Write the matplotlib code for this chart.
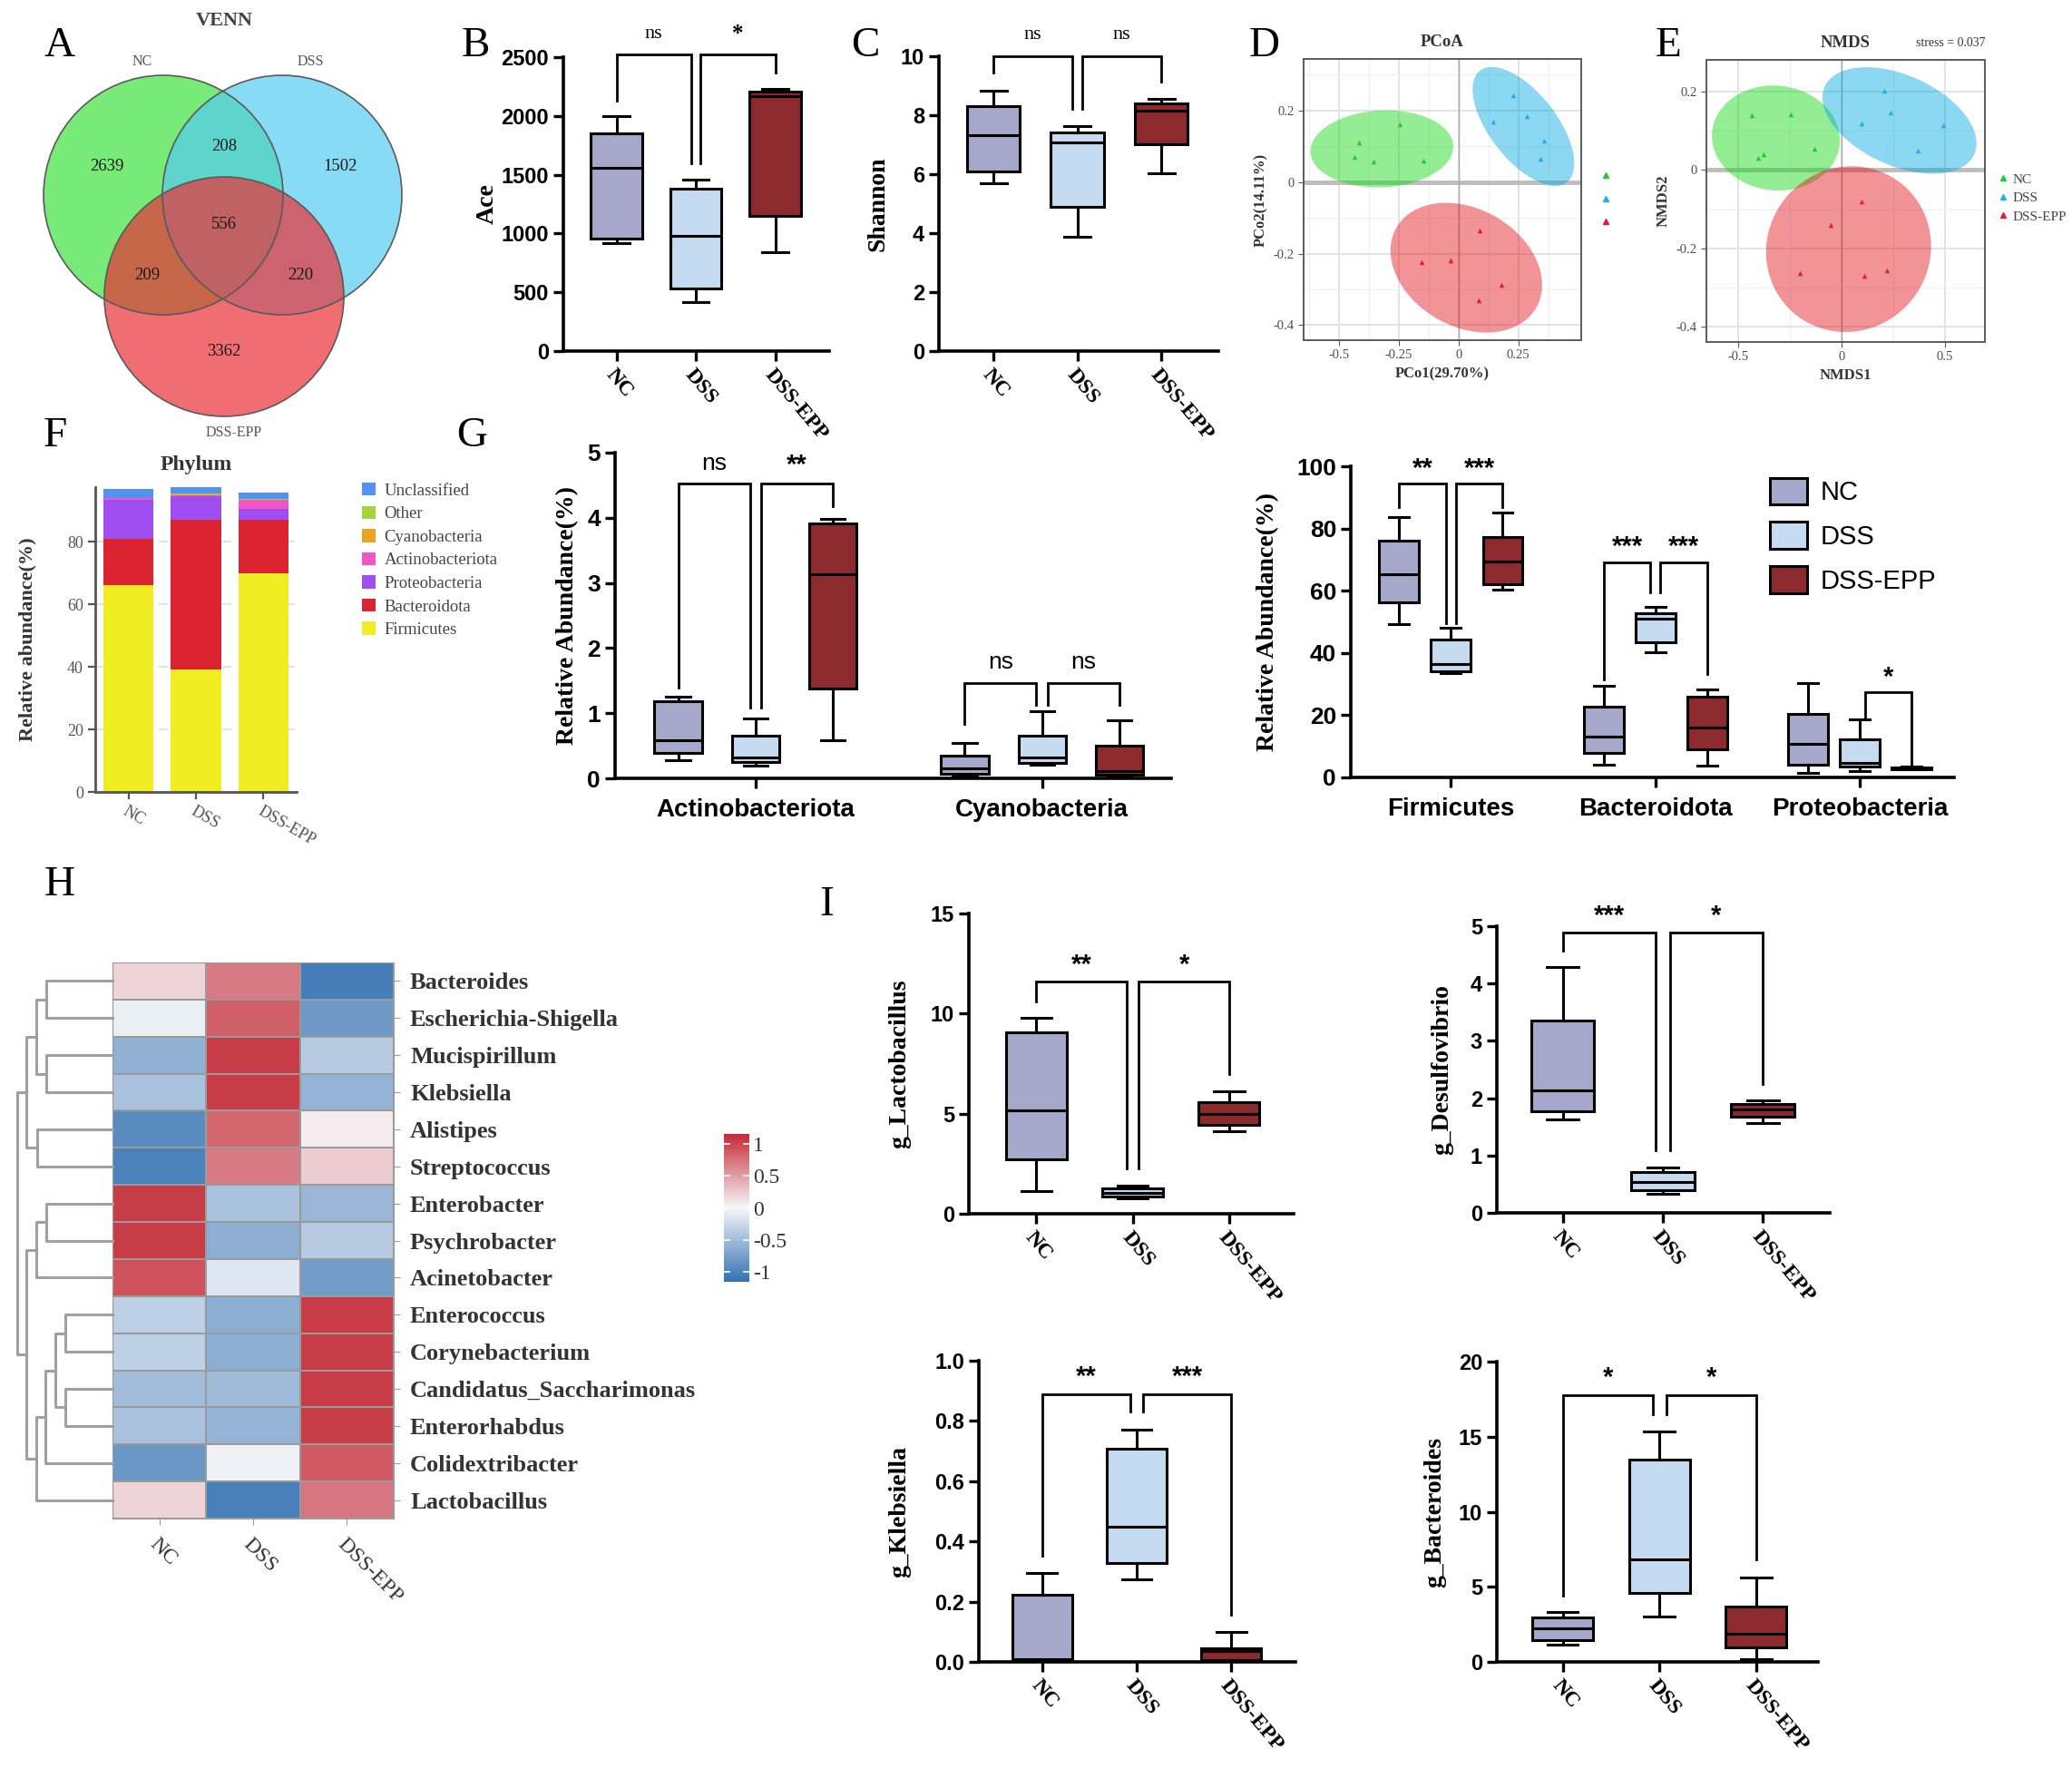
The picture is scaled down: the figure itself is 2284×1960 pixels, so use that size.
import numpy as np
import matplotlib
matplotlib.use('Agg')
import matplotlib.pyplot as plt
from matplotlib.patches import Circle, Patch
from matplotlib.lines import Line2D
from matplotlib.colors import LinearSegmentedColormap

W, H = 2284, 1960
SERIF = 'Liberation Serif'
SANS = 'Liberation Sans'
plt.rcParams['font.family'] = [SERIF, 'DejaVu Serif']

groups = ['NC', 'DSS', 'DSS-EPP']
box_colors = ['#A5A8CA', '#C5DBF2', '#8C2A2E']

# ---- A: venn ----
venn_counts = [2639, 1502, 3362, 208, 209, 220, 556]   # NC, DSS, EPP, NC&DSS, NC&EPP, DSS&EPP, all

# ---- B / C: [min, q1, median, q3, max] per group ----
ace = [[920, 960, 1560, 1850, 2000], [420, 530, 980, 1380, 1460], [840, 1150, 2170, 2210, 2230]]
shannon = [[5.69, 6.10, 7.31, 8.31, 8.82], [3.87, 4.90, 7.08, 7.41, 7.64], [6.02, 7.00, 8.15, 8.39, 8.56]]

# ---- D / E: ordination scores ----
pcoa_x = [[-0.417, -0.433, -0.357, -0.247, -0.145], [0.23, 0.284, 0.145, 0.356, 0.343], [0.088, -0.033, -0.155, 0.18, 0.084]]
pcoa_y = [[0.112, 0.071, 0.058, 0.161, 0.061], [0.243, 0.185, 0.168, 0.116, 0.065], [-0.136, -0.218, -0.225, -0.288, -0.33]]
nmds_x = [[-0.436, -0.247, -0.377, -0.403, -0.132], [0.208, 0.239, 0.096, 0.491, 0.369], [0.096, -0.052, -0.203, 0.109, 0.218]]
nmds_y = [[0.139, 0.143, 0.041, 0.032, 0.053], [0.202, 0.147, 0.120, 0.114, 0.049], [-0.080, -0.141, -0.264, -0.269, -0.256]]

# ---- F: phylum composition ----
phyla = ['Firmicutes', 'Bacteroidota', 'Proteobacteria', 'Actinobacteriota', 'Cyanobacteria', 'Other', 'Unclassified']
phylum_colors = ['#F0EE22', '#DB2430', '#A04EF2', '#F455C4', '#F0A023', '#A6D23A', '#4F94F2']
phylum_nc = [66.2, 14.8, 12.3, 0.6, 0.1, 0.1, 2.7]
phylum_dss = [39.1, 47.9, 7.7, 0.3, 0.2, 0.2, 2.2]
phylum_epp = [69.9, 17.1, 3.4, 2.9, 0.2, 0.2, 2.2]

# ---- G ----
g_left_taxa = ['Actinobacteriota', 'Cyanobacteria']
actino = [[0.279, 0.386, 0.586, 1.177, 1.256], [0.2, 0.256, 0.326, 0.656, 0.921], [0.586, 1.377, 3.14, 3.91, 3.977]]
cyano = [[0.037, 0.074, 0.15, 0.353, 0.549], [0.214, 0.233, 0.326, 0.656, 1.028], [0.037, 0.06, 0.107, 0.502, 0.898]]
g_right_taxa = ['Firmicutes', 'Bacteroidota', 'Proteobacteria']
firm = [[49.2, 56.3, 65.4, 76.0, 83.7], [33.6, 34.1, 36.5, 44.3, 48.2], [60.4, 62.1, 69.3, 77.4, 85.2]]
bact = [[4.2, 8.0, 13.0, 22.6, 29.4], [40.1, 43.3, 51.1, 52.8, 54.7], [3.7, 9.0, 16.1, 26.0, 28.2]]
proteo = [[1.5, 4.2, 10.7, 20.4, 30.2], [1.9, 3.4, 4.7, 12.2, 18.7], [2.5, 2.7, 3.0, 3.3, 3.5]]

# ---- H: heatmap (row z-scores) ----
genera = ['Bacteroides', 'Escherichia-Shigella', 'Mucispirillum', 'Klebsiella', 'Alistipes',
          'Streptococcus', 'Enterobacter', 'Psychrobacter', 'Acinetobacter', 'Enterococcus',
          'Corynebacterium', 'Candidatus_Saccharimonas', 'Enterorhabdus', 'Colidextribacter', 'Lactobacillus']
heat = [[0.20, 0.70, -1.05], [-0.08, 0.85, -0.80], [-0.60, 1.05, -0.38], [-0.45, 1.05, -0.58],
        [-0.92, 0.80, 0.08], [-1.00, 0.70, 0.25], [1.05, -0.45, -0.55], [1.05, -0.62, -0.38],
        [0.92, -0.15, -0.78], [-0.35, -0.62, 1.05], [-0.35, -0.62, 1.05], [-0.50, -0.52, 1.05],
        [-0.45, -0.58, 1.05], [-0.82, -0.05, 0.88], [0.20, -1.02, 0.72]]
# (left, right, height); leaves 0-14, node 15+k made by merge k
merges = [(0, 1, 0.70), (2, 3, 0.70), (15, 16, 0.80), (4, 5, 0.795), (17, 18, 0.904),
          (6, 7, 0.70), (20, 8, 0.80), (9, 10, 0.497), (11, 12, 0.497), (22, 23, 0.60),
          (24, 13, 0.705), (25, 14, 0.80), (21, 26, 0.904), (19, 27, 1.0)]

# ---- I ----
lacto = [[1.13, 2.71, 5.17, 9.05, 9.77], [0.75, 0.86, 1.04, 1.25, 1.40], [4.12, 4.45, 5.0, 5.58, 6.1]]
desulfo = [[1.63, 1.77, 2.13, 3.36, 4.29], [0.33, 0.40, 0.54, 0.71, 0.79], [1.56, 1.67, 1.80, 1.90, 1.96]]
klebs = [[0.0, 0.002, 0.01, 0.223, 0.296], [0.275, 0.328, 0.448, 0.709, 0.771], [0.002, 0.005, 0.037, 0.045, 0.099]]
bacteroides = [[1.17, 1.45, 2.22, 2.98, 3.32], [3.02, 4.57, 6.85, 13.5, 15.35], [0.2, 0.97, 1.87, 3.69, 5.6]]

fig = plt.figure(figsize=(W / 100, H / 100), dpi=100)


def add_ax(x0, y0, x1, y1):
    return fig.add_axes([x0 / W, 1 - y1 / H, (x1 - x0) / W, (y1 - y0) / H])


def letter(x, y, s):
    fig.text(x / W, 1 - y / H, s, fontsize=34, ha='center', va='center')


def prism_axes(box, xlim, ylim, yticks, ytlabels, ylabel, ylabel_x, tfs=17):
    ax = add_ax(*box)
    ax.set_xlim(*xlim)
    ax.set_ylim(*ylim)
    for s in ['top', 'right']:
        ax.spines[s].set_visible(False)
    for s in ['left', 'bottom']:
        ax.spines[s].set_linewidth(2.6)
    ax.set_yticks(yticks, labels=ytlabels, fontfamily=SANS, fontweight='bold', fontsize=tfs)
    ax.tick_params(axis='both', width=2.4, length=8)
    ax.set_ylabel(ylabel, fontsize=20, fontweight='bold')
    # label anchor is the right edge of the rotated text, so shift from its centre
    ax.yaxis.set_label_coords((ylabel_x + 14 - box[0]) / (box[2] - box[0]), 0.5)
    return ax


def draw_boxes(ax, stats, positions, width, colors):
    bstats = [dict(whislo=s[0], q1=s[1], med=s[2], q3=s[3], whishi=s[4], fliers=[]) for s in stats]
    lw = 2.2
    bp = ax.bxp(bstats, positions=positions, widths=width, patch_artist=True, showfliers=False,
                capwidths=width * 0.5, manage_ticks=False,
                boxprops=dict(linewidth=lw, edgecolor='black'),
                whiskerprops=dict(linewidth=lw, color='black'),
                capprops=dict(linewidth=lw, color='black'),
                medianprops=dict(linewidth=lw, color='black'))
    for patch, c in zip(bp['boxes'], colors):
        patch.set_facecolor(c)


def bracket(ax, xa, xb, ya, yb, ytop, label, ty, fam=SANS, fs=18):
    ax.plot([xa, xa, xb, xb], [ya, ytop, ytop, yb], color='black', lw=2, clip_on=False,
            solid_joinstyle='miter')
    wt = 'normal' if label == 'ns' else 'bold'
    ax.text((xa + xb) / 2, ty, label, ha='center', va='center', fontfamily=fam,
            fontsize=fs, fontweight=wt, clip_on=False)


def cat_labels(ax, fs=17):
    ax.set_xticks([0, 1, 2], labels=groups, rotation=-50, ha='left', va='top',
                  rotation_mode='anchor', fontsize=fs, fontweight='bold')


# ================= A: Venn =================
axv = add_ax(0, 0, 500, 490)
axv.set_xlim(0, 500)
axv.set_ylim(490, 0)
axv.axis('off')
venn_centers = [(180, 215), (311, 215), (247, 327)]
venn_colors = ['#3EE23E', '#54CDF1', '#EA3037']
for (cx, cy), c in zip(venn_centers, venn_colors):
    axv.add_patch(Circle((cx, cy), 132, facecolor=c, alpha=0.7, edgecolor='none'))
for cx, cy in venn_centers:
    axv.add_patch(Circle((cx, cy), 132, fill=False, edgecolor='#5A5A5A', lw=1.2))
venn_text_pos = [(118, 183), (375, 183), (247, 387), (247, 162), (162, 303), (331, 303), (247, 247)]
for (tx, ty), n in zip(venn_text_pos, venn_counts):
    axv.text(tx, ty, str(n), ha='center', va='center', fontsize=13.5, color='#1A1A1A')
axv.text(247, 23, 'VENN', ha='center', va='center', fontsize=16, fontweight='bold', color='#444444')
venn_label_pos = [(157, 68), (342, 68), (258, 477)]
for (tx, ty), s in zip(venn_label_pos, groups):
    axv.text(tx, ty, s, ha='center', va='center', fontsize=11.5, color='#555555')

# ================= B / C =================
axb = prism_axes((621, 63, 914, 387), (-0.67, 2.68), (0, 2500), range(0, 2501, 500),
                 [str(v) for v in range(0, 2501, 500)], 'Ace', 536)
draw_boxes(axb, ace, [0, 1, 2], 0.65, box_colors)
cat_labels(axb)
bracket(axb, 0, 0.94, 2126, 1598, 2526, 'ns', 2693, SERIF, 16)
bracket(axb, 1.06, 2, 1598, 2371, 2526, '*', 2693, SERIF, 18)

axc = prism_axes((1035, 62, 1343, 387), (-0.65, 2.68), (0, 10), range(0, 11, 2),
                 [str(v) for v in range(0, 11, 2)], 'Shannon', 966)
draw_boxes(axc, shannon, [0, 1, 2], 0.63, box_colors)
cat_labels(axc)
bracket(axc, 0, 0.94, 9.44, 8.2, 10.0, 'ns', 10.72, SERIF, 16)
bracket(axc, 1.06, 2, 8.2, 9.15, 10.0, 'ns', 10.72, SERIF, 16)

# ================= D / E =================
fill_cols = ['#10D810', '#00A8E0', '#E0101A']
pt_cols = ['#22CC33', '#22B0E0', '#E02030']


def gg_axes(box, xlim, ylim, xticks, xtl, yticks, ytl, xminor, yminor):
    ax = add_ax(*box)
    ax.set_xlim(*xlim)
    ax.set_ylim(*ylim)
    ax.set_xticks(xticks, labels=xtl)
    ax.set_yticks(yticks, labels=ytl)
    ax.set_xticks(xminor, minor=True)
    ax.set_yticks(yminor, minor=True)
    ax.grid(which='major', color='#E3E3E3', lw=1.4)
    ax.grid(which='minor', color='#F1F1F1', lw=1.0)
    ax.set_axisbelow(True)
    for s in ax.spines.values():
        s.set_color('#5A5A5A')
        s.set_linewidth(1.4)
    ax.tick_params(which='minor', length=0)
    ax.tick_params(which='major', length=4, color='#5A5A5A', labelsize=10.5, labelcolor='#4D4D4D')
    ax.axhline(0, color='#BDBDBD', lw=3.5, zorder=1)
    ax.axvline(0, color='#A8A8A8', lw=1.0, zorder=1)
    return ax


def ellipse(ax, xs, ys, color):
    xs = np.asarray(xs)
    ys = np.asarray(ys)
    vals, vecs = np.linalg.eigh(np.cov(xs, ys))
    t = np.linspace(0, 2 * np.pi, 200)
    pts = vecs @ (np.sqrt(vals)[:, None] * np.vstack([np.cos(t), np.sin(t)])) * np.sqrt(5.991)
    ax.fill(xs.mean() + pts[0], ys.mean() + pts[1], color=color, alpha=0.45, lw=0, zorder=2)


axd = gg_axes((1437, 65, 1743, 375), (-0.647, 0.513), (-0.442, 0.344),
              [-0.5, -0.25, 0, 0.25], ['-0.5', '-0.25', '0', '0.25'],
              [-0.4, -0.2, 0, 0.2], ['-0.4', '-0.2', '0', '0.2'],
              [-0.625, -0.375, -0.125, 0.125, 0.375], [-0.3, -0.1, 0.1, 0.3])
for i in range(3):
    ellipse(axd, pcoa_x[i], pcoa_y[i], fill_cols[i])
    axd.scatter(pcoa_x[i], pcoa_y[i], marker='^', s=16, color=pt_cols[i], zorder=3, lw=0)
axd.set_title('PCoA', fontsize=13.5, fontweight='bold', color='#333333', pad=10)
axd.set_xlabel('PCo1(29.70%)', fontsize=12, fontweight='bold', color='#333333')
axd.set_ylabel('PCo2(14.11%)', fontsize=12, fontweight='bold', color='#333333')
hd = [Line2D([], [], marker='^', ls='', color=c, markersize=5) for c in pt_cols]
axd.legend(hd, ['', '', ''], loc='center left', bbox_to_anchor=(1.03, 0.5), frameon=False,
           handlelength=0.8, labelspacing=0.9)

axe = gg_axes((1881, 66, 2188, 377), (-0.656, 0.695), (-0.439, 0.281),
              [-0.5, 0, 0.5], ['-0.5', '0', '0.5'],
              [-0.4, -0.2, 0, 0.2], ['-0.4', '-0.2', '0', '0.2'],
              [-0.25, 0.25], [-0.3, -0.1, 0.1])
for i in range(3):
    ellipse(axe, nmds_x[i], nmds_y[i], fill_cols[i])
    axe.scatter(nmds_x[i], nmds_y[i], marker='^', s=16, color=pt_cols[i], zorder=3, lw=0)
axe.set_title('NMDS', fontsize=13.5, fontweight='bold', color='#333333', pad=10)
axe.text(1.0, 1.04, 'stress = 0.037', transform=axe.transAxes, ha='right', va='bottom',
         fontsize=10, color='#333333')
axe.set_xlabel('NMDS1', fontsize=12, fontweight='bold', color='#333333')
axe.set_ylabel('NMDS2', fontsize=12, fontweight='bold', color='#333333')
axe.legend(hd, groups, loc='center left', bbox_to_anchor=(1.0, 0.51), frameon=False,
           handlelength=0.8, handletextpad=0.3, labelspacing=0.45, fontsize=11,
           labelcolor='#444444')

# ================= F =================
axf = add_ax(105, 537, 327, 873)
bottoms = np.zeros(3)
bars = []
for i, ph in enumerate(phyla):
    vals = np.array([phylum_nc[i], phylum_dss[i], phylum_epp[i]])
    bars.append(axf.bar([0, 1, 2], vals, bottom=bottoms, width=0.74, color=phylum_colors[i],
                        label=ph, zorder=2))
    bottoms += vals
axf.set_xlim(-0.49, 2.49)
axf.set_ylim(0, 97.5)
axf.set_yticks([0, 20, 40, 60, 80])
axf.yaxis.grid(True, ls=(0, (6, 8)), color='#DDDDDD', lw=1.2, zorder=0)
for s in ['top', 'right']:
    axf.spines[s].set_visible(False)
for s in ['left', 'bottom']:
    axf.spines[s].set_linewidth(2)
    axf.spines[s].set_color('#555555')
axf.tick_params(width=1.6, length=6, color='#555555', labelsize=13, labelcolor='#555555')
axf.set_xticks([0, 1, 2], labels=groups, rotation=-30, ha='left', va='top',
               rotation_mode='anchor', fontsize=13, color='#555555')
axf.set_ylabel('Relative abundance(%)', fontsize=16, fontweight='bold', color='#333333')
axf.yaxis.set_label_coords(-0.29, 0.5)
axf.set_title('Phylum', fontsize=17, fontweight='bold', color='#333333', pad=14)
axf.legend(bars[::-1], phyla[::-1], loc='upper left', bbox_to_anchor=(1.25, 1.065), frameon=False,
           fontsize=13.5, labelcolor='#444444', handlelength=0.8, handleheight=0.8,
           handletextpad=0.5, labelspacing=0.42)

# ================= G =================
offs_l = [-0.27, 0, 0.27]
axg1 = prism_axes((678, 499, 1291, 858), (-0.49, 1.45), (0, 5), range(6),
                  [str(v) for v in range(6)], 'Relative Abundance(%)', 624, tfs=19)
for gi, st in enumerate([actino, cyano]):
    draw_boxes(axg1, st, [gi + o for o in offs_l], 0.165, box_colors)
axg1.set_xticks([0, 1], labels=g_left_taxa, fontfamily=SANS, fontweight='bold', fontsize=20)
axg1.tick_params(axis='x', pad=8)
bracket(axg1, -0.27, -0.02, 1.386, 1.084, 4.52, 'ns', 4.83, SANS, 19)
bracket(axg1, 0.02, 0.27, 1.084, 4.177, 4.52, '**', 4.80, SANS, 21)
bracket(axg1, 0.73, 0.98, 0.83, 1.13, 1.465, 'ns', 1.78, SANS, 19)
bracket(axg1, 1.02, 1.27, 1.13, 1.13, 1.465, 'ns', 1.78, SANS, 19)

offs_r = [-0.253, 0, 0.253]
axg2 = prism_axes((1489, 514, 2154, 857), (-0.49, 2.46), (0, 100), range(0, 101, 20),
                  [str(v) for v in range(0, 101, 20)], 'Relative Abundance(%)', 1396, tfs=19)
for gi, st in enumerate([firm, bact, proteo]):
    draw_boxes(axg2, st, [gi + o for o in offs_r], 0.195, box_colors)
axg2.set_xticks([0, 1, 2], labels=g_right_taxa, fontfamily=SANS, fontweight='bold', fontsize=20)
axg2.tick_params(axis='x', pad=8)
bracket(axg2, -0.253, -0.024, 86.9, 49.7, 94.4, '**', 99.0, SANS, 21)
bracket(axg2, 0.024, 0.253, 49.7, 86.9, 94.4, '***', 99.0, SANS, 21)
bracket(axg2, 0.747, 0.976, 31.4, 59.4, 69.1, '***', 74.0, SANS, 21)
bracket(axg2, 1.024, 1.253, 59.4, 33.3, 69.1, '***', 74.0, SANS, 21)
bracket(axg2, 2.024, 2.253, 19.0, 3.9, 27.3, '*', 32.0, SANS, 21)
lh = [Patch(facecolor=c, edgecolor='black', lw=2.2) for c in box_colors]
axg2.legend(lh, groups, loc='upper left', bbox_to_anchor=(0.655, 1.04), frameon=False,
            prop={'family': SANS, 'size': 21}, handlelength=1.4, handleheight=1.2,
            labelspacing=0.62, handletextpad=0.5)

# ================= H =================
hm_cmap = LinearSegmentedColormap.from_list('hm', ['#3471B2', '#F7F7FA', '#C42A36'])
axh = add_ax(124, 1061, 434, 1674)
mesh = axh.pcolormesh(np.array(heat), cmap=hm_cmap, vmin=-1.15, vmax=1.15,
                      edgecolors='#9A9A9A', linewidth=1.2)
axh.set_xlim(0, 3)
axh.set_ylim(15, 0)
axh.yaxis.tick_right()
axh.set_yticks(np.arange(15) + 0.5, labels=genera, fontsize=19, fontweight='bold', color='#333333')
axh.set_xticks(np.arange(3) + 0.5, labels=groups, rotation=-45, ha='left', va='top',
               rotation_mode='anchor', fontsize=17, color='#333333')
for s in axh.spines.values():
    s.set_color('#9A9A9A')
axh.tick_params(length=5, color='#9A9A9A', pad=8)

axdn = add_ax(19, 1061, 124, 1674)
axdn.set_xlim(1.0, 0)
axdn.set_ylim(15, 0)
axdn.axis('off')
ypos = {i: i + 0.5 for i in range(15)}
hgt = {i: 0.0 for i in range(15)}
for k, (a, b, h) in enumerate(merges):
    axdn.plot([hgt[a], h, h, hgt[b]], [ypos[a], ypos[a], ypos[b], ypos[b]],
              color='#A0A0A0', lw=2.2, clip_on=False)
    ypos[15 + k] = (ypos[a] + ypos[b]) / 2
    hgt[15 + k] = h

cax = add_ax(798, 1250, 826, 1413)
cb = fig.colorbar(mesh, cax=cax, ticks=[-1, -0.5, 0, 0.5, 1])
cb.outline.set_visible(False)
cb.set_ticklabels(['-1', '-0.5', '0', '0.5', '1'])
cax.tick_params(length=0, labelsize=17, labelcolor='#333333', pad=3)
for t in [-1, -0.5, 0, 0.5, 1]:
    cax.plot([0, 0.2], [t, t], color='white', lw=1.2)
    cax.plot([0.8, 1], [t, t], color='white', lw=1.2)

# ================= I =================
axi1 = prism_axes((1068, 1007, 1426, 1338), (-0.70, 2.67), (0, 15), [0, 5, 10, 15],
                  ['0', '5', '10', '15'], 'g_Lactobacillus', 990)
draw_boxes(axi1, lacto, [0, 1, 2], 0.63, box_colors)
cat_labels(axi1)
bracket(axi1, 0, 0.935, 10.6, 2.26, 11.6, '**', 12.4, SANS, 21)
bracket(axi1, 1.065, 2, 2.26, 6.98, 11.6, '*', 12.4, SANS, 21)

axi2 = prism_axes((1650, 1021, 2017, 1337), (-0.66, 2.67), (0, 5), range(6),
                  [str(v) for v in range(6)], 'g_Desulfovibrio', 1588)
draw_boxes(axi2, desulfo, [0, 1, 2], 0.63, box_colors)
cat_labels(axi2)
bracket(axi2, 0, 0.93, 4.58, 1.09, 4.89, '***', 5.18, SANS, 21)
bracket(axi2, 1.07, 2, 1.09, 2.25, 4.89, '*', 5.18, SANS, 21)

axi3 = prism_axes((1079, 1500, 1428, 1832), (-0.67, 2.68), (0, 1.0), [0, 0.2, 0.4, 0.6, 0.8, 1.0],
                  ['0.0', '0.2', '0.4', '0.6', '0.8', '1.0'], 'g_Klebsiella', 990)
draw_boxes(axi3, klebs, [0, 1, 2], 0.63, box_colors)
cat_labels(axi3)
bracket(axi3, 0, 0.93, 0.353, 0.83, 0.89, '**', 0.945, SANS, 21)
bracket(axi3, 1.07, 2, 0.83, 0.157, 0.89, '***', 0.945, SANS, 21)

axi4 = prism_axes((1650, 1501, 2004, 1832), (-0.68, 2.64), (0, 20), [0, 5, 10, 15, 20],
                  ['0', '5', '10', '15', '20'], 'g_Bacteroides', 1580)
draw_boxes(axi4, bacteroides, [0, 1, 2], 0.63, box_colors)
cat_labels(axi4)
bracket(axi4, 0, 0.93, 4.43, 16.5, 17.76, '*', 18.9, SANS, 21)
bracket(axi4, 1.07, 2, 16.5, 6.85, 17.76, '*', 18.9, SANS, 21)

# ================= panel letters =================
for s, x, y in [('A', 66, 51), ('B', 524, 51), ('C', 954, 51), ('D', 1394, 51), ('E', 1839, 51),
                ('F', 61, 481), ('G', 520, 481), ('H', 66, 976), ('I', 911, 998)]:
    letter(x, y, s)

fig.savefig('out.png', dpi=100)
